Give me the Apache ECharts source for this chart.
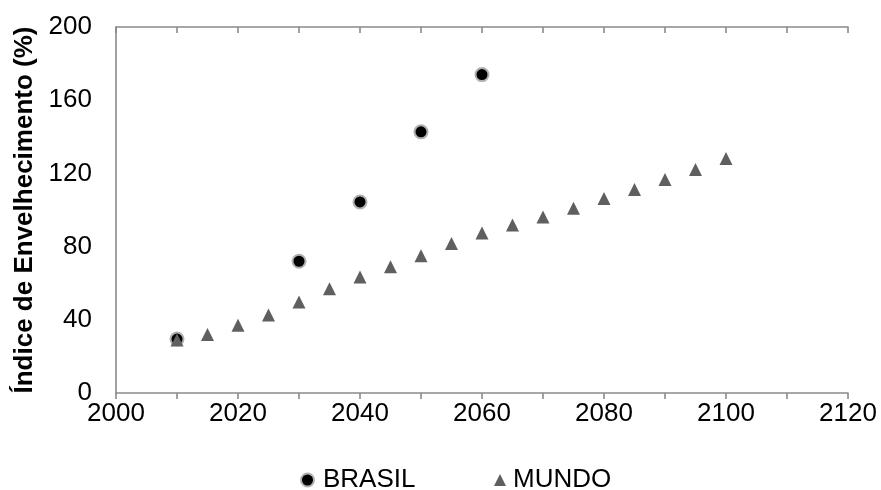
<!DOCTYPE html>
<html>
<head>
<meta charset="utf-8">
<script src="https://cdn.jsdelivr.net/npm/echarts@6/dist/echarts.min.js"></script>
<style>
  html, body { margin: 0; padding: 0; background: #fff; }
  #chart { width: 881px; height: 490px; }
</style>
</head>
<body>
<div id="chart"></div>
<script>
// Índice de envelhecimento: Brasil e Mundo
const brasilYears = [2010, 2030, 2040, 2050, 2060];
const brasilValues = [29.5, 72, 104.4, 142.7, 174];

const mundoYears = [2010, 2015, 2020, 2025, 2030, 2035, 2040, 2045, 2050, 2055,
                    2060, 2065, 2070, 2075, 2080, 2085, 2090, 2095, 2100];
const mundoValues = [29, 32, 37, 42.6, 49.7, 57, 63.4, 69, 75, 81.7,
                     87.4, 91.8, 96.2, 101, 106.3, 111.2, 116.7, 122.1, 128.1];

const yTicks = [0, 40, 80, 120, 160, 200];
const xTicks = [2000, 2020, 2040, 2060, 2080, 2100, 2120];

const FONT = '"Liberation Sans", Arial, sans-serif';
const AXIS_COLOR = '#8a8a8a';

const pairs = (xs, ys) => xs.map((x, i) => [x, ys[i]]);

const chart = echarts.init(document.getElementById('chart'));

const xBase = {
  type: 'value',
  min: xTicks[0],
  max: xTicks[xTicks.length - 1],
  interval: 10,
  splitLine: { show: false },
  axisLine: { show: true, lineStyle: { color: AXIS_COLOR, width: 1.6 } }
};

chart.setOption({
  animation: false,
  grid: { left: 116, right: 33, top: 27, bottom: 97 },
  xAxis: [
    Object.assign({}, xBase, {
      axisTick: { show: true, inside: false, length: 6, lineStyle: { color: AXIS_COLOR, width: 1.6 } },
      axisLabel: {
        margin: 8,
        fontFamily: FONT, fontSize: 26, color: '#000',
        formatter: v => (xTicks.indexOf(v) >= 0 ? String(v) : '')
      }
    }),
    Object.assign({}, xBase, {
      axisTick: { show: true, inside: true, length: 6, lineStyle: { color: AXIS_COLOR, width: 1.6 } },
      axisLabel: { show: false }
    })
  ],
  yAxis: {
    type: 'value',
    min: yTicks[0],
    max: yTicks[yTicks.length - 1],
    interval: 40,
    name: 'Índice de Envelhecimento (%)',
    nameLocation: 'middle',
    nameGap: 65,
    nameTextStyle: { fontFamily: FONT, fontSize: 26, fontWeight: 'bold', color: '#000' },
    splitLine: { show: false },
    axisTick: { show: false },
    axisLine: { show: true, lineStyle: { color: AXIS_COLOR, width: 1.6 } },
    axisLabel: { margin: 24, fontFamily: FONT, fontSize: 26, color: '#000' }
  },
  legend: [
    {
      data: ['BRASIL'], left: 300, top: 467, padding: 0,
      itemWidth: 13, itemHeight: 13,
      textStyle: { fontFamily: FONT, fontSize: 26, color: '#000', padding: [0, 0, 0, 4] }
    },
    {
      data: ['MUNDO'], left: 494, top: 467, padding: 0,
      itemWidth: 12, itemHeight: 12,
      textStyle: { fontFamily: FONT, fontSize: 26, color: '#000', padding: [0, 0, 0, 2] }
    }
  ],
  series: [
    {
      name: 'BRASIL',
      type: 'scatter',
      xAxisIndex: 0,
      symbol: 'circle',
      symbolSize: 13,
      itemStyle: { color: '#000', borderColor: '#b0b0b0', borderWidth: 2, opacity: 1 },
      data: pairs(brasilYears, brasilValues),
      z: 2
    },
    {
      name: 'MUNDO',
      type: 'scatter',
      xAxisIndex: 0,
      symbol: 'triangle',
      symbolSize: 13,
      itemStyle: { color: '#5f5f5f', opacity: 1 },
      data: pairs(mundoYears, mundoValues),
      z: 3
    }
  ]
});
</script>
</body>
</html>
